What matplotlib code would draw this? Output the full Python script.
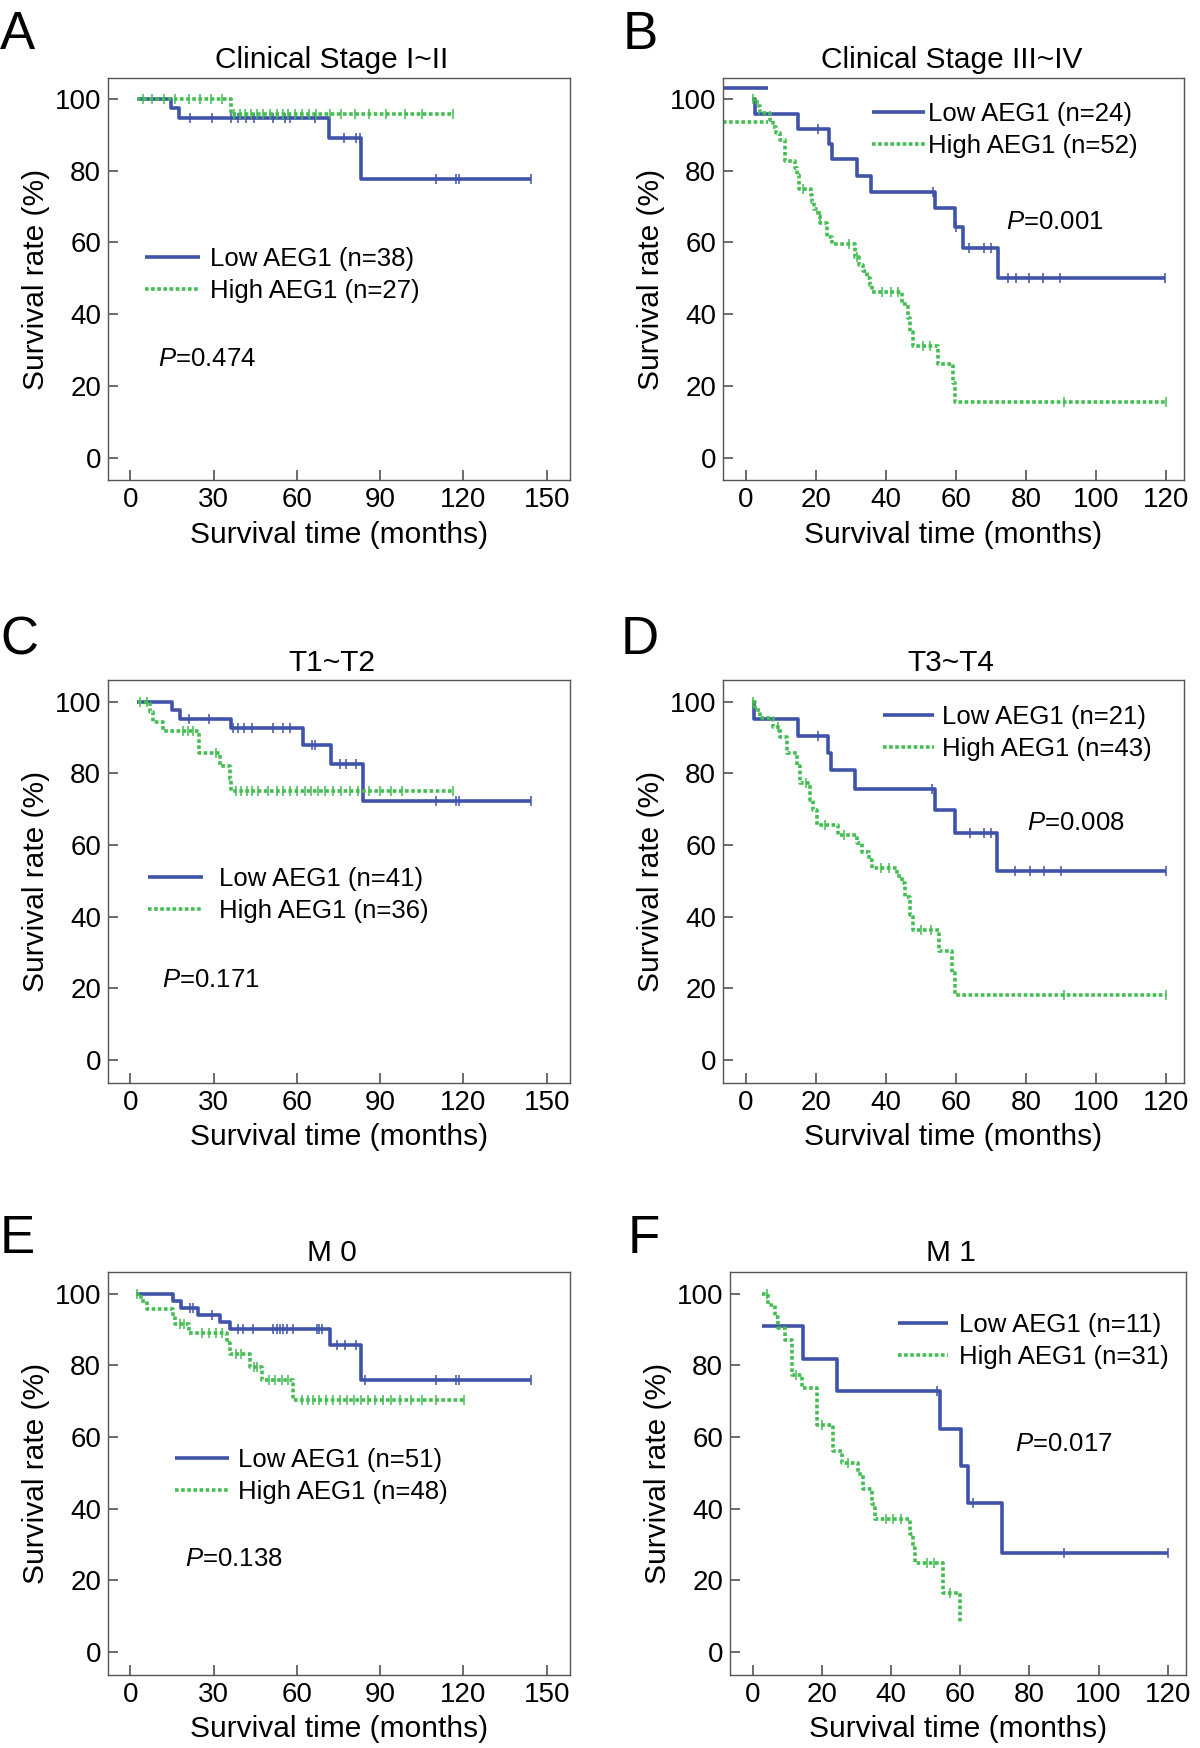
import numpy as np
import matplotlib
matplotlib.use('Agg')
import matplotlib.pyplot as plt

plt.rcParams['font.family'] = ['Liberation Sans', 'DejaVu Sans']
plt.rcParams['mathtext.fontset'] = 'custom'
plt.rcParams['mathtext.it'] = 'Liberation Sans:italic'
plt.rcParams['mathtext.rm'] = 'Liberation Sans'

# ---- data (months, survival %) ----
# A: Clinical Stage I~II
a_low_t = [2.4, 14.8, 17.6, 71.5, 83.3, 144.2]
a_low_s = [100, 97.4, 94.7, 89.0, 77.8, 77.8]
a_low_c = [21.7, 29.3, 36.3, 39.0, 41.8, 44.6, 51.5, 55.6, 57.7, 66.7, 77.1, 81.2, 82.6,
           110.3, 117.2, 118.6, 144.2]
a_high_t = [2.4, 36.3, 116.2]
a_high_s = [100, 95.7, 95.7]
a_high_c = [4.5, 8.0, 12.0, 16.0, 21.0, 25.0, 29.0, 33.0, 37.5, 39.5, 41.5, 43.5, 45.5, 48.0,
            50.5, 53.0, 55.0, 57.0, 59.5, 62.0, 64.5, 67.0, 72.0, 76.0, 81.0, 86.0, 92.0,
            99.0, 105.0, 116.2]

# B: Clinical Stage III~IV
b_low_t = [1.9, 2.6, 14.8, 23.7, 24.5, 31.6, 35.6, 53.9, 59.7, 61.9, 71.9, 119.7]
b_low_s = [100, 95.8, 91.7, 87.5, 83.3, 78.6, 74.1, 69.7, 64.4, 58.5, 50.0, 50.0]
b_low_c = [20.6, 53.3, 59.9, 63.8, 68.0, 69.9, 74.9, 77.1, 81.0, 84.8, 89.8, 119.7]
b_high_t = [1.6, 3.0, 4.0, 6.9, 7.6, 8.5, 9.8, 11.2, 14.0, 14.6, 15.0, 18.5, 18.9, 19.5,
            20.5, 21.2, 23.1, 24.5, 31.2, 32.4, 33.5, 34.5, 35.5, 36.0, 44.5, 46.3, 47.0,
            47.6, 55.0, 59.1, 59.7, 120.0]
b_high_s = [100, 98.1, 96.2, 94.2, 92.3, 90.4, 88.5, 82.7, 80.8, 78.8, 75.0, 73.1, 71.2,
            69.2, 67.3, 65.4, 61.5, 59.6, 55.8, 53.8, 51.9, 50.0, 48.1, 46.2, 42.9, 39.0,
            35.1, 31.2, 26.0, 20.8, 15.6, 15.6]
b_high_c = [2.0, 16.2, 21.0, 29.5, 31.8, 39.0, 41.5, 43.5, 50.5, 52.5, 91.0, 120.0]
# stray short segments at the top-left of panel B
b_stray_t = [-6.6, 6.4]
b_stray_low = [103.0, 103.0]
b_stray_high = [93.5, 93.5]

# C: T1~T2
c_low_t = [2.4, 15.2, 17.9, 36.2, 62.2, 72.2, 84.0, 144.2]
c_low_s = [100, 97.6, 95.1, 92.6, 88.0, 82.7, 72.3, 72.3]
c_low_c = [21.1, 28.3, 36.9, 39.0, 41.1, 43.9, 51.5, 54.9, 57.7, 65.3, 66.7, 75.7, 77.8,
           81.2, 110.3, 117.2, 118.6, 144.2]
c_high_t = [2.9, 7.1, 8.1, 11.9, 24.6, 32.5, 35.8, 36.3, 116.2]
c_high_s = [100, 97.2, 94.4, 91.7, 85.6, 82.0, 78.5, 75.0, 75.0]
c_high_c = [3.5, 6.0, 19.1, 20.9, 22.7, 31.0, 38.0, 40.0, 42.0, 44.0, 46.0, 49.5, 53.0,
            55.0, 57.5, 60.0, 63.0, 65.0, 67.5, 70.0, 73.0, 76.0, 79.0, 82.0, 86.0, 90.0,
            94.0, 98.0, 116.2]

# D: T3~T4
d_low_t = [1.6, 2.4, 14.7, 23.5, 24.3, 31.2, 54.1, 59.8, 71.8, 120.0]
d_low_s = [100, 95.2, 90.5, 85.7, 80.9, 75.6, 69.7, 63.3, 52.7, 52.7]
d_low_c = [20.5, 53.2, 64.0, 68.1, 70.0, 77.0, 81.1, 85.1, 90.1, 120.0]
d_high_t = [1.6, 2.6, 4.0, 7.8, 9.7, 11.6, 14.5, 15.4, 18.3, 19.2, 20.2, 26.4, 31.6, 33.0,
            35.0, 35.9, 43.1, 44.5, 45.5, 46.9, 47.6, 55.2, 59.0, 59.8, 120.0]
d_high_s = [100, 97.7, 95.3, 93.0, 90.2, 85.6, 81.9, 77.2, 72.6, 69.8, 65.6, 62.8, 60.5,
            58.0, 55.8, 53.5, 51.2, 49.3, 45.6, 40.5, 36.3, 30.3, 24.2, 18.2, 18.2]
d_high_c = [2.0, 9.0, 17.0, 22.5, 28.0, 38.5, 41.0, 50.0, 53.0, 91.0, 120.0]

# E: M 0
e_low_t = [2.1, 15.5, 18.2, 24.5, 32.3, 36.0, 72.0, 83.3, 144.2]
e_low_s = [100, 98.0, 96.1, 94.1, 92.1, 90.0, 85.6, 75.9, 75.9]
e_low_c = [21.6, 22.5, 29.4, 39.0, 40.8, 44.3, 51.6, 52.8, 54.0, 55.2, 56.4, 58.8, 67.2,
           68.1, 69.0, 74.4, 77.2, 81.3, 84.7, 110.3, 117.2, 118.6, 144.2]
e_high_t = [2.1, 4.0, 6.0, 15.5, 16.0, 21.3, 35.0, 35.8, 43.2, 47.3, 58.8, 120.2]
e_high_s = [100, 97.9, 95.7, 93.6, 91.5, 89.0, 86.1, 83.2, 79.5, 75.8, 70.2, 70.2]
e_high_c = [2.6, 18.0, 19.5, 26.0, 28.5, 31.0, 33.0, 38.0, 40.0, 44.5, 45.5, 50.0, 52.0,
            54.5, 57.0, 62.0, 64.0, 66.0, 68.0, 70.5, 73.0, 75.5, 78.0, 80.5, 83.0, 85.5,
            88.0, 91.0, 94.0, 97.0, 101.0, 105.0, 110.0, 120.2]

# F: M 1
f_low_t = [2.6, 14.4, 24.4, 54.1, 60.2, 62.2, 72.1, 120.0]
f_low_s = [90.9, 81.8, 72.7, 62.3, 51.9, 41.6, 27.7, 27.7]
f_low_c = [53.3, 63.8, 90.1, 120.0]
f_high_t = [2.6, 4.5, 6.4, 7.4, 9.3, 11.2, 14.1, 18.5, 23.3, 25.7, 30.5, 32.0, 34.4, 35.3,
            45.5, 46.2, 47.0, 55.0, 60.0]
f_high_s = [100, 96.8, 93.5, 90.3, 87.1, 77.4, 73.7, 63.2, 56.1, 52.6, 49.6, 45.6, 41.4,
            37.2, 33.0, 29.0, 24.8, 16.5, 8.3]
f_high_c = [4.0, 12.5, 20.0, 27.5, 38.5, 40.5, 43.0, 50.5, 52.5, 57.0]

titles = ['Clinical Stage I~II', 'Clinical Stage III~IV', 'T1~T2', 'T3~T4', 'M 0', 'M 1']
letters = ['A', 'B', 'C', 'D', 'E', 'F']
n_low = [38, 24, 41, 21, 51, 11]
n_high = [27, 52, 36, 43, 48, 31]
p_values = ['0.474', '0.001', '0.171', '0.008', '0.138', '0.017']
ticks_150 = [0, 30, 60, 90, 120, 150]
ticks_120 = [0, 20, 40, 60, 80, 100, 120]
yticks = [0, 20, 40, 60, 80, 100]

LOW_COLOR = '#3f54a9'
HIGH_COLOR = '#44bd52'
W, H = 1200, 1748
AX_H = 402.2


def px_rect(left, top, width):
    return [left / W, 1 - (top + AX_H) / H, width / W, AX_H / H]


def step_value(t, s, x):
    i = np.searchsorted(t, x, side='right') - 1
    return np.asarray(s)[np.clip(i, 0, len(s) - 1)]


def km_line(ax, t, s, c, color, dashed):
    kw = dict(color=color, drawstyle='steps-post', solid_capstyle='butt')
    if dashed:
        line, = ax.plot(t, s, lw=2.6, dashes=(1.0, 0.7), dash_capstyle='butt', **kw)
    else:
        line, = ax.plot(t, s, lw=2.6, **kw)
    ax.plot(c, step_value(t, s, c), ls='none', marker='|', ms=6.5, mew=1.1, color=color)
    return line


# layout per panel: axes rect (px), xlim, xticks, title x, letter pos, legend, p text
layout = [
    dict(rect=(108, 77.9, 462), xlim=(-8, 158.4), xt=ticks_150, tx=0.485, pad=7,
         let=(0, 49), leg=(0.080, 0.510), hl=2.15, htp=0.4, pxy=(0.109, 0.301)),
    dict(rect=(723, 77.9, 461), xlim=(-6.6, 125.2), xt=ticks_120, tx=0.495, pad=7,
         let=(623, 49), leg=(0.323, 0.871), hl=2.05, htp=0.15, pxy=(0.614, 0.642)),
    dict(rect=(108, 680.4, 462), xlim=(-8, 158.4), xt=ticks_150, tx=0.485, pad=7,
         let=(0, 654), leg=(0.087, 0.466), hl=2.15, htp=0.6, pxy=(0.116, 0.254)),
    dict(rect=(723, 680.4, 461), xlim=(-6.6, 125.2), xt=ticks_120, tx=0.495, pad=7,
         let=(621, 654), leg=(0.347, 0.870), hl=2.0, htp=0.3, pxy=(0.659, 0.645)),
    dict(rect=(108, 1272.4, 462), xlim=(-8, 158.4), xt=ticks_150, tx=0.485, pad=8,
         let=(0, 1253), leg=(0.145, 0.494), hl=2.1, htp=0.35, pxy=(0.167, 0.287)),
    dict(rect=(730, 1272.4, 456), xlim=(-6.6, 125.3), xt=ticks_120, tx=0.485, pad=8,
         let=(628, 1253), leg=(0.368, 0.829), hl=1.95, htp=0.43, pxy=(0.625, 0.573)),
]

curves = [
    ((a_low_t, a_low_s, a_low_c), (a_high_t, a_high_s, a_high_c)),
    ((b_low_t, b_low_s, b_low_c), (b_high_t, b_high_s, b_high_c)),
    ((c_low_t, c_low_s, c_low_c), (c_high_t, c_high_s, c_high_c)),
    ((d_low_t, d_low_s, d_low_c), (d_high_t, d_high_s, d_high_c)),
    ((e_low_t, e_low_s, e_low_c), (e_high_t, e_high_s, e_high_c)),
    ((f_low_t, f_low_s, f_low_c), (f_high_t, f_high_s, f_high_c)),
]

fig = plt.figure(figsize=(12, 17.48), dpi=100)

for i, lay in enumerate(layout):
    ax = fig.add_axes(px_rect(*lay['rect']))
    low, high = curves[i]
    l_low = km_line(ax, *low, LOW_COLOR, False)
    l_high = km_line(ax, *high, HIGH_COLOR, True)
    if letters[i] == 'B':
        ax.plot(b_stray_t, b_stray_low, color=LOW_COLOR, lw=2.6, solid_capstyle='butt')
        ax.plot(b_stray_t, b_stray_high, color=HIGH_COLOR, lw=2.6, dashes=(1.0, 0.7))

    ax.set_xlim(*lay['xlim'])
    ax.set_ylim(-6.3, 105.9)
    ax.set_xticks(lay['xt'])
    ax.set_yticks(yticks)
    ax.tick_params(direction='in', length=7, width=1.1, colors='#444', labelcolor='black',
                   labelsize=20, pad=5, top=False, right=False)
    for sp in ax.spines.values():
        sp.set_linewidth(1.0)
        sp.set_color('#555555')

    ax.set_title(titles[i], fontsize=21.5, pad=lay['pad'], x=lay['tx'])
    ax.set_xlabel('Survival time (months)', fontsize=21.5, labelpad=5.5)
    ax.set_ylabel('Survival rate (%)', fontsize=21.5, labelpad=3)

    ax.legend([l_low, l_high],
              ['Low AEG1 (n=%d)' % n_low[i], 'High AEG1 (n=%d)' % n_high[i]],
              loc='center left', bbox_to_anchor=lay['leg'], frameon=False,
              fontsize=18.5, handlelength=lay['hl'], handletextpad=lay['htp'],
              labelspacing=0.3, borderpad=0, borderaxespad=0)

    ax.text(lay['pxy'][0], lay['pxy'][1], r'$\it{P}$=' + p_values[i],
            transform=ax.transAxes, fontsize=18.5, ha='left', va='center')

    fig.text(lay['let'][0] / W, 1 - lay['let'][1] / H, letters[i], fontsize=38,
             ha='left', va='baseline')

fig.savefig('out.png', dpi=100)
